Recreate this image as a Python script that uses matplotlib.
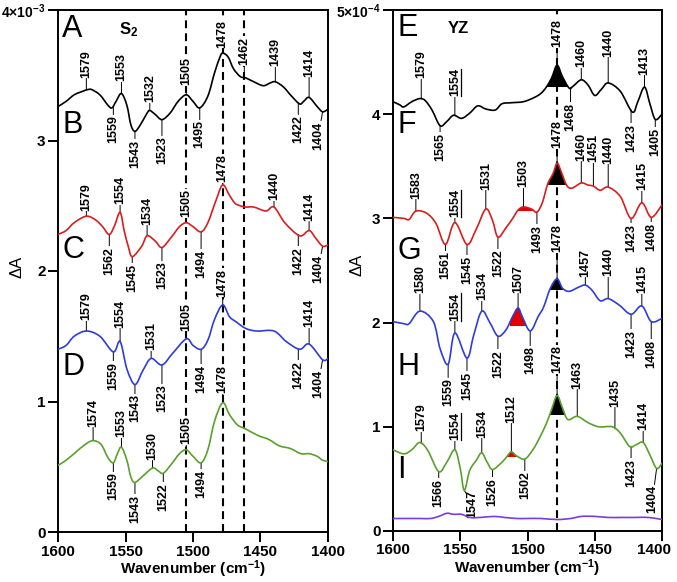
import numpy as np
import matplotlib
matplotlib.use('Agg')
import matplotlib.pyplot as plt
from matplotlib.path import Path
from matplotlib.patches import PathPatch, Rectangle
from matplotlib.transforms import Affine2D, ScaledTranslation

plt.rcParams['font.family'] = ['Liberation Sans', 'DejaVu Sans']
plt.rcParams['mathtext.fontset'] = 'custom'
plt.rcParams['mathtext.rm'] = 'Liberation Sans:bold'
plt.rcParams['mathtext.bf'] = 'Liberation Sans:bold'
plt.rcParams['mathtext.it'] = 'Liberation Sans:bold'
plt.rcParams['mathtext.sf'] = 'Liberation Sans:bold'

# ---- left panel (S2), dA in units of 1e-3 ----
a_wn = [1600, 1594, 1588, 1581, 1578, 1575, 1569, 1563, 1560, 1557, 1553, 1549, 1546, 1543, 1539,
        1534, 1532, 1528, 1523, 1517, 1511, 1505, 1500, 1495, 1489, 1484, 1480, 1478, 1474, 1470,
        1465, 1461, 1455, 1448, 1443, 1439, 1433, 1427, 1421, 1418, 1414, 1408, 1404, 1400]
a_abs = [3.26, 3.30, 3.35, 3.38, 3.39, 3.39, 3.35, 3.27, 3.25, 3.30, 3.36, 3.27, 3.12, 3.07, 3.12,
         3.21, 3.23, 3.20, 3.16, 3.21, 3.30, 3.35, 3.30, 3.25, 3.34, 3.52, 3.64, 3.67, 3.64, 3.55,
         3.49, 3.48, 3.45, 3.42, 3.44, 3.45, 3.41, 3.34, 3.28, 3.30, 3.33, 3.26, 3.22, 3.24]

b_wn = [1600, 1594, 1588, 1579, 1572, 1567, 1562, 1558, 1554, 1551, 1548, 1545, 1538, 1534, 1528,
        1523, 1516, 1510, 1505, 1500, 1494, 1489, 1483, 1478, 1473, 1469, 1465, 1461, 1455, 1446,
        1440, 1432, 1421, 1414, 1409, 1404, 1400]
b_abs = [2.28, 2.31, 2.37, 2.42, 2.39, 2.34, 2.28, 2.35, 2.45, 2.31, 2.19, 2.11, 2.19, 2.27, 2.23,
         2.18, 2.26, 2.34, 2.37, 2.34, 2.30, 2.37, 2.54, 2.66, 2.58, 2.52, 2.50, 2.49, 2.49, 2.46,
         2.49, 2.37, 2.27, 2.31, 2.25, 2.19, 2.20]

c_wn = [1600, 1594, 1588, 1579, 1569, 1559, 1554, 1549, 1543, 1537, 1531, 1523, 1515, 1505, 1500,
        1494, 1489, 1484, 1478, 1473, 1468, 1461, 1453, 1440, 1431, 1421, 1414, 1404, 1400]
c_abs = [1.40, 1.43, 1.50, 1.54, 1.50, 1.38, 1.46, 1.25, 1.13, 1.24, 1.33, 1.28, 1.37, 1.48, 1.43,
         1.40, 1.47, 1.63, 1.74, 1.65, 1.61, 1.56, 1.54, 1.54, 1.46, 1.40, 1.44, 1.32, 1.33]

d_wn = [1600, 1594, 1587, 1580, 1574, 1568, 1563, 1559, 1556, 1553, 1549, 1546, 1543, 1537, 1530,
        1526, 1522, 1516, 1510, 1505, 1500, 1494, 1489, 1484, 1478, 1473, 1467, 1461, 1452, 1444,
        1436, 1428, 1420, 1414, 1408, 1404, 1400]
d_abs = [0.51, 0.55, 0.61, 0.67, 0.70, 0.67, 0.57, 0.53, 0.60, 0.65, 0.55, 0.42, 0.38, 0.43, 0.49,
         0.47, 0.45, 0.52, 0.60, 0.63, 0.58, 0.53, 0.63, 0.85, 0.99, 0.90, 0.82, 0.79, 0.74, 0.71,
         0.66, 0.64, 0.60, 0.60, 0.58, 0.55, 0.54]

# ---- right panel (YZ), dA in units of 1e-4 ----
e_wn = [1600, 1595, 1592, 1586, 1580, 1576, 1571, 1565, 1560, 1555, 1549, 1543, 1537, 1531, 1524,
        1519, 1512, 1503, 1495, 1490, 1486, 1482, 1478, 1474, 1469, 1466, 1460, 1455, 1450, 1445,
        1440, 1431, 1422, 1418, 1413, 1409, 1405, 1400]
e_abs = [4.12, 4.09, 4.07, 4.12, 4.15, 4.13, 4.04, 3.89, 3.93, 3.99, 3.96, 4.01, 4.08, 4.05, 4.04,
         4.10, 4.11, 4.12, 4.16, 4.20, 4.26, 4.35, 4.47, 4.36, 4.25, 4.27, 4.33, 4.28, 4.18, 4.24,
         4.30, 4.22, 4.02, 4.12, 4.26, 4.10, 3.95, 4.00]

f_wn = [1600, 1592, 1588, 1583, 1575, 1568, 1561, 1554, 1545, 1538, 1531, 1526, 1522, 1516, 1511,
        1507, 1503, 1497, 1493, 1489, 1485, 1481, 1478, 1475, 1471, 1467, 1460, 1455, 1451, 1446,
        1440, 1431, 1423, 1415, 1408, 1400]
f_abs = [3.01, 3.00, 2.99, 3.07, 3.05, 2.95, 2.75, 2.96, 2.75, 2.90, 3.09, 2.98, 2.82, 2.91, 3.00,
         3.08, 3.11, 3.09, 3.06, 3.15, 3.33, 3.43, 3.53, 3.45, 3.32, 3.29, 3.34, 3.32, 3.31, 3.27,
         3.30, 3.21, 3.00, 3.15, 3.01, 3.13]

g_wn = [1600, 1592, 1588, 1580, 1570, 1565, 1559, 1554, 1545, 1540, 1534, 1528, 1522, 1516, 1511,
        1507, 1504, 1498, 1492, 1488, 1483, 1478, 1474, 1469, 1462, 1457, 1452, 1446, 1440, 1432,
        1423, 1415, 1408, 1400]
g_abs = [2.01, 1.99, 1.99, 2.11, 2.01, 1.75, 1.60, 1.90, 1.66, 1.88, 2.11, 2.00, 1.87, 1.93, 2.06,
         2.14, 2.06, 1.92, 2.06, 2.15, 2.33, 2.42, 2.33, 2.30, 2.34, 2.36, 2.31, 2.21, 2.23, 2.17,
         2.08, 2.16, 2.01, 2.04]

h_wn = [1600, 1592, 1586, 1580, 1574, 1566, 1560, 1554, 1550, 1547, 1543, 1538, 1534, 1530, 1526,
        1519, 1515, 1512, 1508, 1502, 1496, 1492, 1486, 1482, 1478, 1474, 1470, 1463, 1455, 1447,
        1437, 1431, 1424, 1419, 1414, 1409, 1404, 1400]
h_abs = [0.78, 0.74, 0.78, 0.85, 0.77, 0.57, 0.66, 0.78, 0.60, 0.39, 0.58, 0.68, 0.75, 0.66, 0.59,
         0.66, 0.72, 0.76, 0.72, 0.69, 0.78, 0.87, 1.03, 1.17, 1.30, 1.18, 1.07, 1.10, 1.04, 1.00,
         1.00, 0.94, 0.81, 0.83, 0.85, 0.73, 0.60, 0.65]

i_wn = [1600, 1590, 1580, 1572, 1566, 1560, 1555, 1549, 1543, 1535, 1525, 1517, 1508, 1500, 1490,
        1478, 1468, 1460, 1450, 1440, 1430, 1420, 1410, 1400]
i_abs = [0.12, 0.12, 0.12, 0.12, 0.14, 0.17, 0.16, 0.16, 0.13, 0.13, 0.14, 0.13, 0.12, 0.12, 0.12,
         0.11, 0.12, 0.14, 0.14, 0.13, 0.13, 0.13, 0.13, 0.11]

# peak labels: (wavenumber, up/down, offset in pt[, sideways shift in pt])
a_labels = [(1579, 'u', 9), (1553, 'u', 9), (1532, 'u', 6), (1505, 'u', 7), (1478, 'u', 4),
            (1462, 'u', 9), (1439, 'u', 11), (1414, 'u', 15),
            (1559, 'd', 7), (1543, 'd', 6), (1523, 'd', 12), (1495, 'd', 9), (1422, 'd', 9),
            (1404, 'd', 7, -3)]
b_labels = [(1579, 'u', 4), (1554, 'u', 6), (1534, 'u', 8), (1505, 'u', 4), (1478, 'u', 2),
            (1440, 'u', 5), (1414, 'u', 7),
            (1562, 'd', 9), (1545, 'd', 5), (1523, 'd', 10), (1494, 'd', 13), (1422, 'd', 9),
            (1404, 'd', 6, -3)]
c_labels = [(1579, 'u', 8), (1554, 'u', 10), (1531, 'u', 6), (1505, 'u', 6), (1478, 'u', 6),
            (1414, 'u', 12),
            (1559, 'd', 7), (1543, 'd', 7), (1523, 'd', 14), (1494, 'd', 11), (1422, 'd', 9),
            (1404, 'd', 7, -3)]
d_labels = [(1574, 'u', 10), (1553, 'u', 7), (1530, 'u', 6), (1505, 'u', 4), (1478, 'u', 7),
            (1559, 'd', 7), (1543, 'd', 9), (1522, 'd', 7), (1494, 'd', 5)]

e_labels = [(1579, 'u', 15), (1554, 'u', 14), (1478, 'u', 13), (1460, 'u', 9), (1440, 'u', 19),
            (1413, 'u', 9),
            (1565, 'd', 5), (1468, 'd', 11), (1423, 'd', 10), (1405, 'd', 6)]
f_labels = [(1583, 'u', 9), (1554, 'u', 4), (1531, 'u', 14), (1503, 'u', 14), (1478, 'u', 11),
            (1460, 'u', 16), (1451, 'u', 17), (1440, 'u', 17), (1415, 'u', 9),
            (1561, 'd', 5), (1545, 'd', 8), (1522, 'd', 9), (1493, 'd', 9), (1423, 'd', 4), (1408, 'd', 4)]
g_labels = [(1580, 'u', 13), (1554, 'u', 9), (1534, 'u', 8), (1507, 'u', 11), (1478, 'u', 19),
            (1457, 'u', 6), (1440, 'u', 16), (1415, 'u', 9),
            (1559, 'd', 10), (1545, 'd', 10), (1522, 'd', 10), (1498, 'd', 11), (1423, 'd', 11), (1408, 'd', 13)]
h_labels = [(1579, 'u', 9), (1554, 'u', 7), (1534, 'u', 11), (1512, 'u', 21), (1478, 'u', 16),
            (1463, 'u', 20), (1435, 'u', 16), (1414, 'u', 9),
            (1566, 'd', 5), (1547, 'd', 0, 6), (1526, 'd', 6), (1502, 'd', 9), (1423, 'd', 9),
            (1404, 'd', 12, -3)]

black_fill = 'black'
red_fill = '#e00000'

col_black = 'black'
col_red = '#d81e1e'
col_blue = '#2e3cd8'
col_green = '#5aa02c'
col_purple = '#7a3cdc'

LABEL_FS = 9

fig = plt.figure(figsize=(6.77, 5.82), dpi=100)
ax1 = fig.add_axes([58 / 677, 50 / 582, 270 / 677, 522 / 582])
ax2 = fig.add_axes([393 / 677, 51 / 582, 269 / 677, 521 / 582])
for ax in [ax1, ax2]:
    ax.set_xlim(1600, 1400)
ax1.set_ylim(0, 4)
ax2.set_ylim(0, 5)


def smooth_path(wn, ab, close_to=None):
    # cubic bezier through the read points (catmull-rom style control points)
    p = np.column_stack([wn, ab]).astype(float)
    n = len(p)
    verts = [p[0]]
    codes = [Path.MOVETO]
    for i in range(n - 1):
        p0 = p[i - 1] if i > 0 else p[i]
        p1 = p[i]
        p2 = p[i + 1]
        p3 = p[i + 2] if i + 2 < n else p[i + 1]
        verts += [p1 + (p2 - p0) / 6, p2 - (p3 - p1) / 6, p2]
        codes += [Path.CURVE4] * 3
    if close_to is not None:
        verts += [(p[-1][0], close_to), (p[0][0], close_to), p[0]]
        codes += [Path.LINETO, Path.LINETO, Path.CLOSEPOLY]
    return Path(verts, codes)


def draw_curve(ax, wn, ab, col):
    ax.add_patch(PathPatch(smooth_path(wn, ab), fill=False, edgecolor=col, lw=1.2,
                           zorder=3, capstyle='round', joinstyle='round'))


def put_labels(ax, wn, ab, labels, underline=()):
    wn = np.array(wn)
    ab = np.array(ab)
    for lab in labels:
        w, d, off = lab[:3]
        dx = lab[3] if len(lab) > 3 else 0
        yv = np.interp(w, wn[::-1], ab[::-1])
        sign = 1 if d == 'u' else -1
        ax.annotate(str(w), xy=(w, yv), xytext=(dx, sign * off), textcoords='offset points',
                    rotation=90, ha='center', va='bottom' if d == 'u' else 'top',
                    fontsize=LABEL_FS, fontweight='bold', zorder=2,
                    bbox=dict(boxstyle='square,pad=0.05', fc='white', ec='none'),
                    arrowprops=dict(arrowstyle='-', lw=0.7, color='k', shrinkA=0, shrinkB=0))
        if w in underline:
            # underline of rotated text sits on its right-hand side
            tr = Affine2D().scale(fig.dpi / 72) + ScaledTranslation(w, yv, ax.transData)
            ax.plot([4.3 + dx, 4.3 + dx], [sign * off, sign * (off + 19.5)], color='k', lw=0.9,
                    transform=tr, zorder=2.2)


def shade(ax, wn, ab, hi, lo, base, color):
    # area between baseline and the curve, limited to the band hi..lo
    under = PathPatch(smooth_path(wn, ab, close_to=-10), transform=ax.transData,
                      fc='none', ec='none')
    ax.add_patch(under)
    rect = Rectangle((lo, base), hi - lo, 10, fc=color, ec='none', zorder=2.5)
    ax.add_patch(rect)
    rect.set_clip_path(under)


dash = (0, (3.8, 2.4))
for w in [1505, 1478, 1462]:
    ax1.axvline(w, color='k', ls=dash, lw=1.5, zorder=1)
ax2.axvline(1478, color='k', ls=dash, lw=1.5, zorder=1)

# left panel curves
for wn, ab, col, labs in [(a_wn, a_abs, col_black, a_labels), (b_wn, b_abs, col_red, b_labels),
                          (c_wn, c_abs, col_blue, c_labels), (d_wn, d_abs, col_green, d_labels)]:
    draw_curve(ax1, wn, ab, col)
    put_labels(ax1, wn, ab, labs)

# right panel curves
for wn, ab, col, labs in [(e_wn, e_abs, col_black, e_labels), (f_wn, f_abs, col_red, f_labels),
                          (g_wn, g_abs, col_blue, g_labels), (h_wn, h_abs, col_green, h_labels)]:
    draw_curve(ax2, wn, ab, col)
    put_labels(ax2, wn, ab, labs, underline=(1554,))
draw_curve(ax2, i_wn, i_abs, col_purple)

shade(ax2, e_wn, e_abs, 1487, 1469, 4.26, black_fill)
shade(ax2, f_wn, f_abs, 1486, 1470, 3.32, black_fill)
shade(ax2, g_wn, g_abs, 1485, 1471, 2.31, black_fill)
shade(ax2, h_wn, h_abs, 1484, 1471, 1.11, black_fill)
shade(ax2, f_wn, f_abs, 1510, 1495, 3.07, red_fill)
shade(ax2, g_wn, g_abs, 1513, 1501, 1.97, red_fill)
shade(ax2, h_wn, h_abs, 1516, 1507, 0.71, red_fill)

# axes styling
for ax in [ax1, ax2]:
    ax.set_xlim(1600, 1400)
    ax.set_xticks([1600, 1550, 1500, 1450, 1400])
    ax.set_xticklabels(['1600', '1550', '1500', '1450', '1400'], fontweight='bold')
    ax.tick_params(direction='out', length=7, width=1.4, labelsize=11, top=False, right=False, pad=2)
    for s in ax.spines.values():
        s.set_linewidth(1.4)
    ax.set_xlabel('Wavenumber (cm$^{-1}$)', fontsize=11, fontweight='bold', labelpad=0)

# last right-hand tick label sits against the figure edge
last = ax2.get_xticklabels()[-1]
last.set_transform(last.get_transform() + ScaledTranslation(-6 / 72, 0, fig.dpi_scale_trans))

ax1.set_ylim(0, 4)
ax1.set_yticks([0, 1, 2, 3, 4])
ax1.set_yticklabels(['0', '1', '2', '3', '4×10$^{-3}$'], fontweight='bold')
ax2.set_ylim(0, 5)
ax2.set_yticks([0, 1, 2, 3, 4, 5])
ax2.set_yticklabels(['0', '1', '2', '3', '4', '5×10$^{-4}$'], fontweight='bold')
ax1.get_yticklabels()[-1].set_fontsize(10)
ax2.get_yticklabels()[-1].set_fontsize(10)

# panel letters
for ax, letters in [(ax1, [('A', 0.963), ('B', 0.78), ('C', 0.54), ('D', 0.316)]),
                    (ax2, [('E', 0.965), ('F', 0.779), ('G', 0.537), ('H', 0.315), ('I', 0.117)])]:
    for ch, yy in letters:
        ax.text(0.015, yy, ch, transform=ax.transAxes, fontsize=22, ha='left', va='center', zorder=4)

ax1.text(0.26, 0.963, 'S$_2$', transform=ax1.transAxes, fontsize=12, fontweight='bold',
         ha='center', va='center')
ax2.text(0.242, 0.965, 'YZ', transform=ax2.transAxes, fontsize=12, fontweight='bold',
         ha='center', va='center')

fig.text(17 / 677, 1 - 267 / 582, 'ΔA', rotation=90, ha='center', va='center', fontsize=12)
fig.text(357 / 677, 1 - 265 / 582, 'ΔA', rotation=90, ha='center', va='center', fontsize=12)

fig.savefig('out.png', dpi=100)
